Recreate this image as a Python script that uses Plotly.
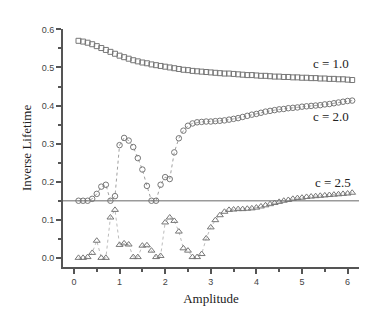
import plotly.graph_objects as go

amp = [round(0.1 * i, 1) for i in range(1, 62)]

c10 = [0.570, 0.568, 0.565, 0.561, 0.556, 0.551, 0.546, 0.541, 0.536, 0.531,
       0.527, 0.523, 0.519, 0.516, 0.513, 0.511, 0.508, 0.506, 0.504, 0.502,
       0.500, 0.498, 0.496, 0.494, 0.493, 0.491, 0.490, 0.489, 0.488, 0.487,
       0.486, 0.485, 0.484, 0.484, 0.483, 0.482, 0.481, 0.480, 0.480, 0.479,
       0.478, 0.478, 0.477, 0.476, 0.476, 0.475, 0.475, 0.474, 0.474, 0.473,
       0.473, 0.472, 0.472, 0.471, 0.471, 0.470, 0.470, 0.469, 0.469, 0.468,
       0.467]

c20 = [0.150, 0.150, 0.150, 0.155, 0.168, 0.187, 0.192, 0.150, 0.162, 0.296,
       0.315, 0.308, 0.291, 0.262, 0.232, 0.189, 0.150, 0.150, 0.192, 0.212,
       0.207, 0.277, 0.314, 0.334, 0.347, 0.353, 0.356, 0.357, 0.358, 0.358,
       0.359, 0.360, 0.361, 0.363, 0.365, 0.367, 0.370, 0.373, 0.376, 0.378,
       0.381, 0.384, 0.386, 0.388, 0.390, 0.391, 0.393, 0.394, 0.395, 0.397,
       0.398, 0.399, 0.400, 0.401, 0.403, 0.404, 0.406, 0.408, 0.410, 0.412,
       0.413]

c25 = [0.000, 0.000, 0.002, 0.013, 0.045, 0.000, 0.000, 0.106, 0.126, 0.034,
       0.038, 0.035, 0.002, 0.002, 0.032, 0.033, 0.019, 0.002, 0.005, 0.093,
       0.106, 0.097, 0.069, 0.025, 0.019, 0.002, 0.002, 0.010, 0.051, 0.080,
       0.099, 0.112, 0.121, 0.126, 0.127, 0.128, 0.128, 0.129, 0.130, 0.132,
       0.135, 0.138, 0.141, 0.144, 0.147, 0.150, 0.152, 0.155, 0.157, 0.158,
       0.160, 0.161, 0.162, 0.163, 0.164, 0.165, 0.166, 0.167, 0.168, 0.169,
       0.171]

ref_level = 0.15
labels = ["c = 1.0", "c = 2.0", "c = 2.5"]
label_x = [5.63, 5.63, 5.68]
label_y = [0.511, 0.372, 0.197]

gray = "#777777"
serif = "Liberation Serif, Times New Roman, serif"

fig = go.Figure()

fig.add_shape(type="line", xref="paper", x0=0, x1=1, yref="y",
              y0=ref_level, y1=ref_level, line=dict(color="#9a9a9a", width=1.5),
              layer="below")

fig.add_trace(go.Scatter(
    x=amp, y=c10, mode="markers",
    marker=dict(symbol="square-open", size=5, color=gray, line=dict(width=1, color=gray))
))
fig.add_trace(go.Scatter(
    x=amp, y=c20, mode="lines+markers",
    line=dict(color="#888888", width=0.8, dash="dot"),
    marker=dict(symbol="circle-open", size=5.5, color=gray, line=dict(width=1, color=gray))
))
fig.add_trace(go.Scatter(
    x=amp, y=c25, mode="lines+markers",
    line=dict(color="#aaaaaa", width=0.8, dash="dot"),
    marker=dict(symbol="triangle-up-open", size=6, color=gray, line=dict(width=1, color=gray))
))

for t, lx, ly in zip(labels, label_x, label_y):
    fig.add_annotation(x=lx, y=ly, text=t, showarrow=False,
                       font=dict(family=serif, size=13, color="#222222"))

axis_common = dict(
    showgrid=False, zeroline=False, showline=True, linewidth=2, linecolor="#555555",
    ticks="outside", ticklen=5, tickwidth=1.5, tickcolor="#555555",
    tickfont=dict(family="Liberation Sans, Arial, sans-serif", size=9, color="#444444"),
)

# page body has an 8px margin, so the figure is a bit smaller than the window
fig.update_layout(
    width=373, height=323,
    margin=dict(l=55, r=22, t=21, b=64),
    paper_bgcolor="white", plot_bgcolor="white",
    showlegend=False,
    xaxis=dict(range=[-0.24, 6.25], dtick=1,
               minor=dict(dtick=0.5, ticklen=3, tickcolor="#555555", ticks="outside"),
               title=dict(text="Amplitude", font=dict(family=serif, size=13, color="#222222"),
                          standoff=8),
               **axis_common),
    yaxis=dict(range=[-0.024, 0.601], dtick=0.1, tickformat=".1f",
               minor=dict(dtick=0.05, ticklen=3, tickcolor="#555555", ticks="outside"),
               title=dict(text="Inverse Lifetime", font=dict(family=serif, size=13, color="#222222"),
                          standoff=7),
               **axis_common),
)

fig.write_html("out.html")
